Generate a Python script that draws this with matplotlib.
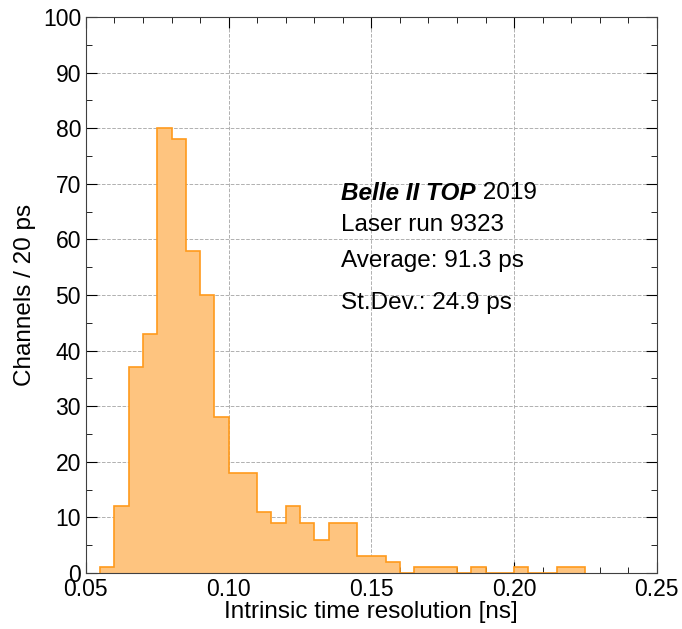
import numpy as np
import matplotlib.pyplot as plt
from matplotlib.ticker import MultipleLocator

plt.rcParams['font.family'] = ['Liberation Sans', 'DejaVu Sans']

# === Histogram contents (5 ps bins, counts per bin) ===
bin_edges = np.round(np.arange(0.055, 0.2251, 0.005), 3)
counts = [1, 12, 37, 43, 80, 78, 58, 50, 28, 18,
          18, 11, 9, 12, 9, 6, 9, 9, 3, 3,
          2, 0, 1, 1, 1, 0, 1, 0, 0, 1,
          0, 0, 1, 1]

fig = plt.figure(figsize=(6.82, 6.29), dpi=100)
ax = fig.add_axes([0.126, 0.089, 0.837, 0.884])

ax.stairs(counts, bin_edges, fill=True, color='#fec47f', zorder=2)
ax.stairs(counts, bin_edges, color='#ff9a1c', linewidth=1.2, zorder=2.2)

ax.set_xlim(0.05, 0.25)
ax.set_ylim(0, 100)
ax.xaxis.set_major_locator(MultipleLocator(0.05))
ax.xaxis.set_minor_locator(MultipleLocator(0.01))
ax.yaxis.set_major_locator(MultipleLocator(10))
ax.yaxis.set_minor_locator(MultipleLocator(5))
ax.xaxis.set_major_formatter(lambda v, p: f'{v:.2f}')
ax.tick_params(which='both', direction='in', top=True, right=True, labelsize=16.5)
ax.tick_params(which='major', length=8)
ax.tick_params(which='minor', length=4)
ax.grid(True, which='major', linestyle='--', color='#b0b0b0', linewidth=0.7, zorder=0)
ax.set_axisbelow(True)
for s in ax.spines.values():
    s.set_color('#404040')

ax.set_xlabel('Intrinsic time resolution [ns]', fontsize=17.5, labelpad=0)
ax.set_ylabel('Channels / 20 ps', fontsize=17.5)
ax.yaxis.set_label_coords(-0.088, 0.5)

# === Annotation block ===
tx = 0.1395
fs = 17.5
t = ax.text(tx, 68.3, 'Belle II TOP', fontsize=fs, fontweight='bold',
            style='italic', va='center')
ax.annotate(' 2019', xy=(1, 0.5), xycoords=t, fontsize=fs, va='center')
ax.text(tx, 62.6, 'Laser run 9323', fontsize=fs, va='center')
ax.text(tx, 56.1, 'Average: 91.3 ps', fontsize=fs, va='center')
ax.text(tx, 48.6, 'St.Dev.: 24.9 ps', fontsize=fs, va='center')

fig.savefig('out.png', dpi=100)
